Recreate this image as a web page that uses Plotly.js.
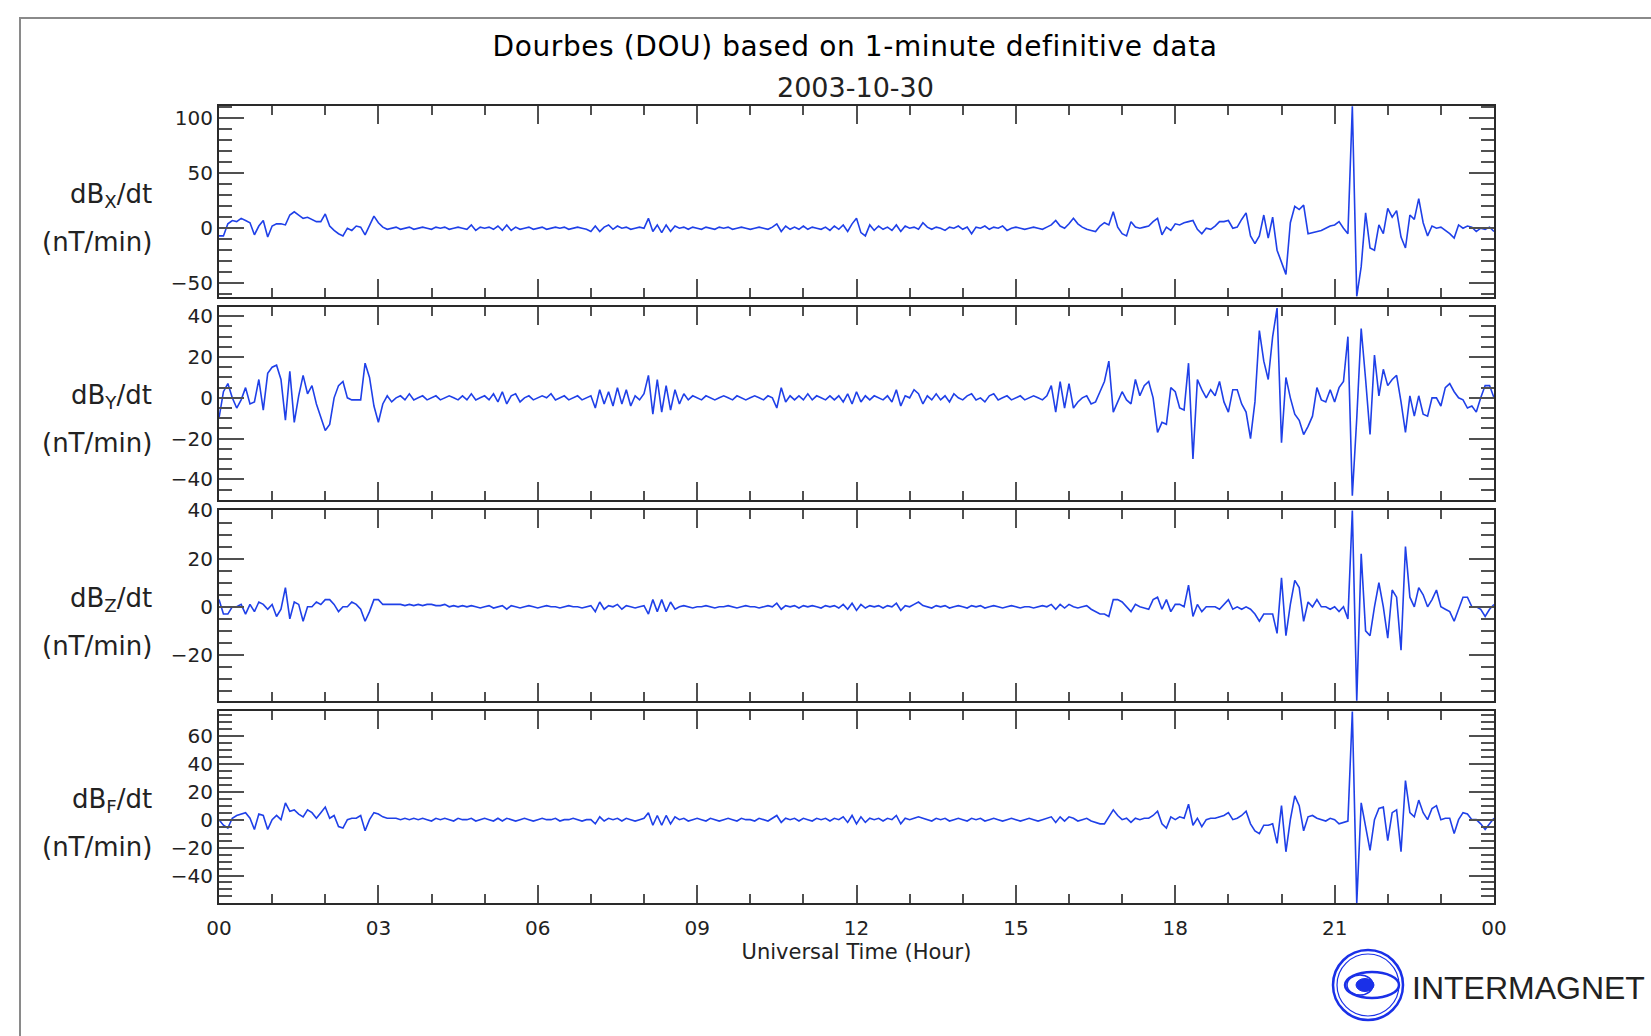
<!DOCTYPE html>
<html><head><meta charset="utf-8">
<script src="https://cdn.plot.ly/plotly-3.0.1.min.js"></script>
<style>
html,body{margin:0;padding:0;background:#fff;}
#chart{width:1651px;height:1036px;}
#chart .gtitle{letter-spacing:0.6px;}
</style>
</head><body><div id="chart"></div>
<script>
// Values, one sample every 5 minutes (00:00 .. 24:00).
const SAMPLE_MINUTES = 5;

const dBX = [
 -7,-7,4,7,6,9,7,5,-6,2, 7,-8,2,4,4,3,12,15,12,9, 10,8,6,6,13,2,-2,-5,-7,0, -2,2,1,-6,3,11,5,1,-1,0,
 1,-1,0,1,-1,0,1,0,-1,1, 0,1,-1,0,1,0,-1,3,-2,1, 0,1,-1,2,-2,3,-2,1,-1,0, 1,-1,0,1,-1,0,1,0,1,-1,
 0,1,0,-1,-3,2,-3,1,3,-1, 2,0,1,-1,0,1,0, 9,-3,3,-4,3,-3,2,
 0,1,-1,1,0,-1,1,0,-1,1, 0,1,-1,0,1,0,-1,0,1,0, -1,1,4,-3,2,-1,1,-1,2,-1, 1,0,-1,1,-2,2,-1,3,-3,4,
 9,-4,-7,3,-2,2,-1,1,-2,3, -3,2,0,1,-1,5,1,-1,1,0, -2,1,0,2,-1,1,-5,1,0,2, -1,1,0,2,-2,0,1,0,-1,0,
 1,0,-1,1,3,7,2,0,4,9, 4,1,-1,-2,-3,2,5,3,15,1, -5,-7,6,1,
 0,1,2,6,9,-6,1,-2,4,3, 5,6,7,-1,-5,0,-1,2,6,6, 7,0,1,8,14,-7,-14,-7,12,-9, 10,-20,-32,-42,5,20,17,21,-5,-4,
 -3,-2,0,2,3,6,0,-5,111,-62, -35,14,-18,-20,3,-5,18,10,16,-8, -18,12,8,27,5,-7,2,0,1,-2, -5,-9,3,0,2,1,-3,0,-1,1,-3
];

const dBY = [
 -10,3,7,0,-5,-1,5,-3,-2,9, -6,12,15,16,9,-11,13,-12,1,11, 2,6,-3,-9,-16,-13,0,6,8,0, -1,-1,-1,17,10,-4,-12,-3,1,-2,
 0,1,-1,2,-1,0,1,-1,0,1, -1,0,1,0,-1,1,-1,2,-1,0, 1,-1,2,-2,3,-3,1,2,-2,0, 1,-1,0,1,0,2,-1,0,1,-1,
 0,1,-1,0,1,-5,4,-3,3,-4, 5,-3,4,-4,1,-1,2, 11,-8,9,-7,6,-6,4,
 -3,2,-1,1,0,-1,1,0,-1,0, 1,0,-1,1,0,-1,0,1,0,-1, 1,0,-5,5,-2,1,-1,1,-1,2, -1,1,0,-1,1,-1,1,-2,2,-3,
 3,-2,1,-1,1,0,-1,1,-2,4, -4,1,0,4,2,-3,1,-1,2,-1, 1,-2,2,0,-1,1,2,-1,0,-2, 1,2,-1,0,1,-1,0,1,-1,0,
 1,0,-1,1,6,-7,8,-5,7,-5, -2,0,1,-3,-2,3,8,18,-7,-2, 3,-1,-3,9,
 1,6,8,0,-17,-12,-13,5,3,-5, -6,17,-30,9,4,0,4,1,8,-2, -7,4,4,-3,-7,-20,-2,33,18,9, 30,44,-22,10,0,-8,-11,-18,-14,-9,
 5,-1,-2,4,-2,5,8,30,-48,-10, 34,9,-18,21,1,14,6,9,11,-2, -17,1,-9,1,-8,-9,0,0,-4,5, 7,3,0,-1,-5,-4,-7,0,6,6,0
];

const dBZ = [
 3,-3,-3,0,0,1,-3,1,-2,2, 1,-1,1,-4,-1,8,-5,2,1,-6, 0,0,2,1,3,3,1,-2,0,0, 2,1,-1,-6,-2,3,3,1,1,1,
 1,1,0.5,1,0.5,1,0.5,1,1,0.5, 0.5,1,0,0.5,0,0.5,0,0.5,0,-0.5, 0,0.5,-0.5,0,0.5,-1,0.5,0,-0.5,0, 0.5,0,-0.5,0,0.5,0,0,-0.5,0,0.5,
 0,0,-0.5,0,0.5,-2,2,-1,0.5,0, 1,-1,0.5,0,-0.5,0,0.5, -3,3,-2,3,-2,2,-1,
 0,0.5,0,-0.5,0,0,0.5,0,-0.5,0, 0,0.5,0,-0.5,0,0.5,0,0,-0.5,0, 0.5,0,1.5,-1,0.5,0,0.5,-0.5,0.5,0, 0.5,0,-0.5,0.5,0,0.5,-0.5,1,-1,1.5,
 -1.5,1,-0.5,0.5,0,0.5,-0.5,0.5,0,1.5, -1.5,0.5,0,1,2,0.5,0,-0.5,0.5,0, 0.5,-0.5,0,0.5,0,-0.5,0.5,0,0.5,-0.5, 0,0.5,0,-0.5,0,0.5,0,-0.5,0,0,
 -0.5,0,0.5,0,1,-1,1,-0.5,1,0, -0.5,0,0.5,-1,-2,-3,-3,-4,3,3, 2,0,-2,1,
 0,-0.5,-1,3,4,-1,3,-2,1,1, 0,9,-4,1,-2,0,0,0,-1,1, 3,-1,0,-1,0,-1,-3,-6,-3,-3, -3,-11,12,-12,1,11,8,-6,2,0,
 3,0,0,-1,0,-2,0,-5,40,-39, 22,-10,-12,0,10,0,-13,7,4,-18, 25,4,0,8,5,0,3,7,0,-1, -2,-6,-1,4,4,0,0,-1,-4,-1,1
];

const dBF = [
 0,-4,-6,1,3,4,5,1,-7,4, 3,-7,0,3,0,12,6,7,4,2, 7,5,1,5,9,1,3,-5,-6,0, 1,1,3,-8,0,5,4,2,1,1,
 1,0,1,0,1,0,1,0,-1,1, 0,1,0,-1,1,0,0,1,-1,0, 1,0,-1,1,-1,1,0,-1,0,1, 0,-1,0,1,0,0,1,-1,0,0,
 1,0,-1,0,0,-3,2,-1,1,0, 1,-1,1,0,-1,0,1, 5,-4,3,-4,3,-3,2,
 0,1,-1,0,1,0,-1,1,0,-1, 0,1,0,-1,1,0,0,-1,1,0, -1,1,3,-2,1,0,1,-1,1,0, -1,1,0,1,-1,1,0,2,-2,3,
 -3,2,-2,1,0,1,-1,1,0,3, -3,1,0,1,2,1,0,-1,1,0, 1,-1,0,1,0,-1,1,0,1,-1, 0,1,0,-1,0,1,0,-1,0,1,
 0,-1,0,1,2,-2,2,-1,2,1, -1,0,1,-1,-2,-3,-3,2,7,3, 0,1,-2,1,
 0,1,1,3,6,-3,-6,2,0,2, 1,11,-4,1,-5,0,1,1,2,3, 5,0,1,3,6,-3,-8,-10,-4,-4, -3,-17,10,-23,0,17,10,-8,2,3,
 1,0,-1,1,0,-3,-2,-1,77.5,-59.8, 12,-5,-22,0,8,9,-15,5,7,-23, 28,5,2,14,5,0,8,10,0,1, 1,-10,0,5,4,0,0,-3,-7,-3,1
];

const seriesLabels = ['X', 'Y', 'Z', 'F'];
const xTickVals = [0, 3, 6, 9, 12, 15, 18, 21, 24];
const xTickText = ['00', '03', '06', '09', '12', '15', '18', '21', '00'];
const titleText = 'Dourbes (DOU) based on 1-minute definitive data';
const dateText = '2003-10-30';
const xTitleText = 'Universal Time (Hour)';
const unitText = '(nT/min)';
const logoText = 'INTERMAGNET';

// ---------------- layout ----------------
const W = 1651, H = 1036;
const px = v => v / W;
const py = v => 1 - v / H;
const hours = dBX.map((_, i) => i * SAMPLE_MINUTES / 60);
const series = [dBX, dBY, dBZ, dBF];

const panels = [
  {top: 106, bottom: 296.7, range: [-62.3, 111.2], dtick: 50, minor: 10},
  {top: 307.3, bottom: 500, range: [-50.1, 44.4], dtick: 20, minor: 5},
  {top: 510, bottom: 701, range: [-39.1, 40.2], dtick: 20, minor: 5},
  {top: 711, bottom: 903.3, range: [-59.9, 77.8], dtick: 20, minor: 5}
];
const LABEL_DY1 = 89, LABEL_DY2 = 136;

const FONT = 'DejaVu Sans, Verdana, sans-serif';
const LINE = '#2a2a2a', TICKC = '#505050';
const BLUE = '#1f40e8';

const traces = series.map((s, i) => ({
  x: hours, y: s, type: 'scatter', mode: 'lines',
  xaxis: 'x' + (i + 1), yaxis: 'y' + (i + 1),
  line: {color: BLUE, width: 1.6}, hoverinfo: 'skip', showlegend: false
}));

const layout = {
  width: W, height: H,
  margin: {l: 0, r: 0, t: 0, b: 0},
  paper_bgcolor: '#fff', plot_bgcolor: '#fff',
  showlegend: false,
  font: {family: FONT, color: '#222', size: 20},
  title: {text: titleText, x: px(855), xanchor: 'center', xref: 'paper',
          y: py(46), yanchor: 'middle', yref: 'container',
          font: {family: FONT, size: 28, color: '#000'}},
  annotations: [],
  shapes: []
};

panels.forEach((p, i) => {
  const n = i + 1;
  const xa = {
    domain: [px(219), px(1494)], range: [0, 24], anchor: 'y' + n,
    tickmode: 'array', tickvals: xTickVals, ticktext: xTickText,
    ticks: 'inside', ticklen: 18, tickwidth: 2, tickcolor: TICKC,
    minor: {tickmode: 'linear', tick0: 0, dtick: 1, ticks: 'inside', ticklen: 9, tickwidth: 2, tickcolor: TICKC, showgrid: false},
    showline: true, linewidth: 2, linecolor: LINE, mirror: 'ticks',
    showgrid: false, zeroline: false, fixedrange: true,
    showticklabels: n === 4,
    tickfont: {family: FONT, size: 20, color: '#222'}
  };
  if (n === 4) {
    xa.title = {text: xTitleText, font: {family: FONT, size: 21, color: '#222'}, standoff: 2};
    xa.ticklabelstandoff = 6;
  }
  const ya = {
    domain: [py(p.bottom), py(p.top)], range: p.range, anchor: 'x' + n,
    tickmode: 'linear', tick0: 0, dtick: p.dtick,
    ticks: 'inside', ticklen: 25, tickwidth: 2, tickcolor: TICKC,
    minor: {tickmode: 'linear', tick0: 0, dtick: p.minor, ticks: 'inside', ticklen: 13, tickwidth: 2, tickcolor: TICKC, showgrid: false},
    showline: true, linewidth: 2, linecolor: LINE, mirror: 'ticks',
    showgrid: false, zeroline: false, fixedrange: true,
    tickfont: {family: FONT, size: 20, color: '#222'}
  };
  const sfx = n === 1 ? '' : n;
  layout['xaxis' + sfx] = xa;
  layout['yaxis' + sfx] = ya;

  layout.annotations.push({
    text: 'dB<sub>' + seriesLabels[i] + '</sub>/dt', xref: 'paper', yref: 'paper',
    x: px(154), xanchor: 'right', y: py(p.top + LABEL_DY1), yanchor: 'middle',
    showarrow: false, font: {family: FONT, size: 26, color: '#222'}
  });
  layout.annotations.push({
    text: unitText, xref: 'paper', yref: 'paper',
    x: px(154), xanchor: 'right', y: py(p.top + LABEL_DY2), yanchor: 'middle',
    showarrow: false, font: {family: FONT, size: 26, color: '#222'}
  });
});

layout.annotations.push({
  text: dateText, xref: 'paper', yref: 'paper', x: px(855), xanchor: 'center',
  y: py(87), yanchor: 'middle', showarrow: false,
  font: {family: FONT, size: 27, color: '#222'}
});
layout.annotations.push({
  text: logoText, xref: 'paper', yref: 'paper', x: px(1410), xanchor: 'left',
  y: py(988), yanchor: 'middle', showarrow: false,
  font: {family: 'Liberation Sans, Arial, sans-serif', size: 32, color: '#222'}
});

// outer frame (extends past the right and bottom edges of the picture)
layout.shapes.push({type: 'rect', xref: 'paper', yref: 'paper', layer: 'below',
  x0: px(20), x1: 1.05, y0: -0.05, y1: py(18), line: {color: '#8a8a8a', width: 2}});

// INTERMAGNET logo
const ell = (cx, cy, rx, ry, style) => Object.assign({type: 'circle', xref: 'paper', yref: 'paper',
  x0: px(cx - rx), x1: px(cx + rx), y0: py(cy + ry), y1: py(cy - ry)}, style);
const LC = 985;
layout.shapes.push(ell(1368, LC, 35, 35, {line: {color: '#1a30e8', width: 2.5}}));
layout.shapes.push(ell(1368, LC, 31, 31, {line: {color: '#1a30e8', width: 1.2}}));
layout.shapes.push(ell(1372, LC, 27, 13, {line: {color: '#1a30e8', width: 2.5}}));
layout.shapes.push(ell(1360, LC, 13, 10, {line: {color: '#1a30e8', width: 1.5}}));
layout.shapes.push(ell(1365, LC, 9, 6.5, {line: {color: '#1a30e8', width: 1}, fillcolor: '#1a30e8'}));

Plotly.newPlot('chart', traces, layout, {staticPlot: true, displayModeBar: false});
</script>
</body></html>
